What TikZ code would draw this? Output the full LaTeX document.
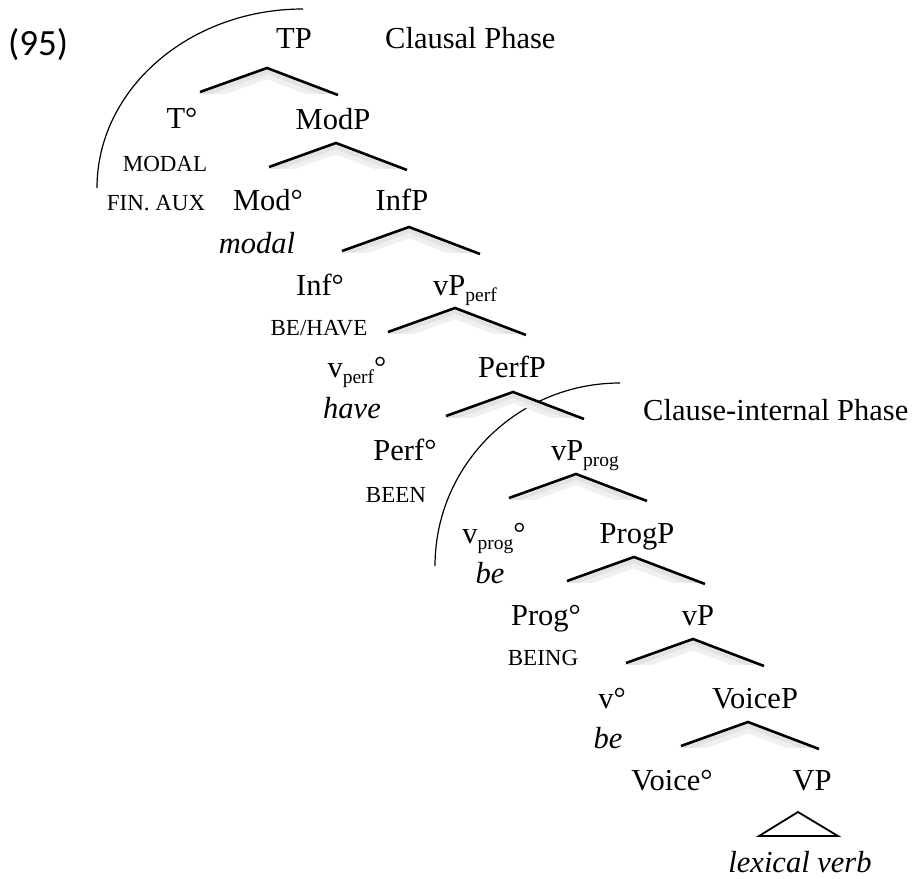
\documentclass[tikz,border=0pt]{standalone}
\usepackage{fontspec}
\setmainfont{Liberation Serif}
\newfontfamily\numfont{Carlito}
\newcommand{\sbs}[1]{\raisebox{-0.22em}{\fontsize{19.5}{19.5}\selectfont #1}}

\begin{document}
\begin{tikzpicture}[x=1pt, y=-1pt,
    cat/.style={inner sep=0pt, anchor=base, font=\fontsize{30.5}{31}\selectfont},
    word/.style={cat, font=\fontsize{30.5}{31}\selectfont\itshape},
    feat/.style={cat, font=\fontsize{23}{23}\selectfont},
    branch/.style={draw=black, line width=2.6pt},
    phase/.style={draw=black, line width=1.2pt},
    wedge/.pic={
      \begin{scope}
        \clip (-75,-4) rectangle (80,25);
        \draw[black!6, line width=10pt] (-67,30) -- (0,6) -- (71,33);
        \draw[black!11, line width=4pt] (-67,28) -- (0,4) -- (71,31);
      \end{scope}
      \draw[branch] (-67,24) -- (0,0) -- (71,27);
    }]
    \useasboundingbox (0,0) rectangle (918,878);

    \node [inner sep=0pt, anchor=base west, font=\numfont\fontsize{37}{37}\selectfont] (ex) at (8,55) {(95)};

    \draw [phase] (303,9) arc[start angle=90, end angle=180, x radius=206pt, y radius=179pt];
    \draw [phase] (620,383) arc[start angle=90, end angle=180, x radius=185pt, y radius=183pt];

    \node [cat] (tp) at (294,48) {TP};
    \node [cat, anchor=base west] (clausal) at (385,48) {Clausal Phase};
    \pic at (267,68) {wedge};

    \node [cat] (t-head) at (182,128) {T°};
    \node [cat] (modp) at (333,129) {ModP};
    \node [feat] (t-modal) at (165,171) {MODAL};
    \pic at (336,143) {wedge};

    \node [feat] (t-finaux) at (156,210) {FIN. AUX};
    \node [cat] (mod-head) at (268,210) {Mod°};
    \node [cat] (infp) at (402,210) {InfP};
    \node [word] (mod-modal) at (257,253) {modal};
    \pic at (409,227) {wedge};

    \node [cat] (inf-head) at (320,295) {Inf°};
    \node [cat] (vpperf) at (465,295) {vP\sbs{perf}};
    \node [feat] (inf-behave) at (319,335) {BE/HAVE};
    \pic at (455,308) {wedge};

    \node [cat] (vperf-head) at (357,377) {v\sbs{perf}°};
    \node [cat] (perfp) at (512,377) {PerfP};
    \node [word] (vperf-have) at (352,418) {have};
    \pic at (513,392) {wedge};
    \node [cat, anchor=base west] (internal) at (643,420) {Clause-internal Phase};

    \node [cat] (perf-head) at (405,460) {Perf°};
    \node [cat] (vpprog) at (585,460) {vP\sbs{prog}};
    \node [feat] (perf-been) at (396,502) {BEEN};
    \pic at (576,474) {wedge};

    \node [cat] (vprog-head) at (494,543) {v\sbs{prog}°};
    \node [cat] (progp) at (637,543) {ProgP};
    \node [word] (vprog-be) at (490,583) {be};
    \pic at (634,557) {wedge};

    \node [cat] (prog-head) at (546,625) {Prog°};
    \node [cat] (vp) at (698,625) {vP};
    \node [feat] (prog-being) at (543,665) {BEING};
    \pic at (693,639) {wedge};

    \node [cat] (v-head) at (612,708) {v°};
    \node [cat] (voicep) at (755,708) {VoiceP};
    \node [word] (v-be) at (608,748) {be};
    \pic at (748,722) {wedge};

    \node [cat] (voice-head) at (672,790) {Voice°};
    \node [cat] (lexvp) at (812,790) {VP};
    \draw [draw=black, line width=1.8pt] (798,812) -- (759,836) -- (838,836) -- cycle;
    \node [word] (lexverb) at (800,872) {lexical verb};
\end{tikzpicture}
\end{document}
